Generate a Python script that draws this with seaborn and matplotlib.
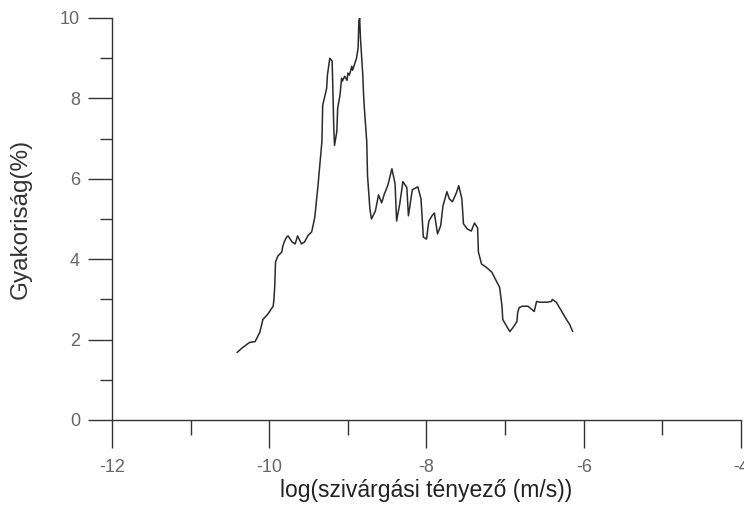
import pandas as pd
import matplotlib
matplotlib.use('Agg')
import matplotlib.pyplot as plt
from matplotlib.ticker import MultipleLocator
import seaborn as sns

# values
log_k = [-10.41, -10.34, -10.25, -10.18, -10.12, -10.08, -10.02, -9.95, -9.94, -9.93,
         -9.92, -9.89, -9.84, -9.83, -9.81, -9.78, -9.76, -9.71, -9.67, -9.64,
         -9.59, -9.55, -9.51, -9.46, -9.42, -9.38, -9.33, -9.32, -9.29, -9.27,
         -9.26, -9.23, -9.20, -9.19, -9.18, -9.17, -9.14, -9.13, -9.10, -9.08,
         -9.07, -9.04, -9.01, -9.00, -8.98, -8.95, -8.94, -8.91, -8.89, -8.87,
         -8.86, -8.85, -8.84, -8.81, -8.80, -8.79, -8.76, -8.75, -8.72, -8.70,
         -8.65, -8.61, -8.57, -8.54, -8.49, -8.44, -8.40, -8.38, -8.34, -8.30,
         -8.25, -8.23, -8.18, -8.11, -8.07, -8.04, -8.00, -7.97, -7.93, -7.90,
         -7.86, -7.82, -7.79, -7.74, -7.71, -7.67, -7.62, -7.59, -7.55, -7.53,
         -7.48, -7.43, -7.39, -7.35, -7.34, -7.30, -7.24, -7.17, -7.11, -7.07,
         -7.04, -7.03, -6.98, -6.94, -6.90, -6.85, -6.84, -6.82, -6.78, -6.71,
         -6.66, -6.63, -6.60, -6.56, -6.47, -6.41, -6.40, -6.35, -6.28, -6.22,
         -6.18, -6.14]
freq = [1.68, 1.80, 1.93, 1.95, 2.18, 2.50, 2.63, 2.83, 3.00, 3.33,
        3.93, 4.08, 4.18, 4.30, 4.43, 4.55, 4.58, 4.43, 4.38, 4.58,
        4.38, 4.43, 4.58, 4.68, 5.05, 5.83, 6.93, 7.83, 8.08, 8.25,
        8.58, 9.00, 8.93, 8.18, 7.33, 6.83, 7.18, 7.75, 8.08, 8.50,
        8.43, 8.55, 8.45, 8.63, 8.58, 8.80, 8.70, 8.88, 9.00, 9.25,
        9.93, 10.00, 9.50, 8.58, 8.08, 7.75, 6.93, 6.08, 5.25, 5.00,
        5.20, 5.60, 5.40, 5.60, 5.85, 6.25, 5.88, 4.95, 5.38, 5.93,
        5.78, 5.08, 5.73, 5.80, 5.50, 4.55, 4.50, 4.95, 5.08, 5.15,
        4.63, 4.83, 5.33, 5.68, 5.50, 5.43, 5.65, 5.83, 5.50, 4.88,
        4.75, 4.70, 4.90, 4.78, 4.18, 3.88, 3.80, 3.68, 3.45, 3.30,
        2.83, 2.50, 2.33, 2.20, 2.30, 2.45, 2.68, 2.80, 2.83, 2.83,
        2.75, 2.70, 2.95, 2.93, 2.93, 2.95, 3.00, 2.93, 2.70, 2.50,
        2.38, 2.20]

df = pd.DataFrame({'logk': log_k, 'freq': freq})

sns.set_style('ticks')
plt.rcParams['font.family'] = ['Liberation Sans', 'DejaVu Sans']
plt.rcParams['axes.unicode_minus'] = False

fig = plt.figure(figsize=(7.44, 5.07), dpi=100)
ax = fig.add_axes([0.1505, 0.1716, 0.8455, 0.7929])

sns.lineplot(data=df, x='logk', y='freq', sort=False, estimator=None,
             color='#2a2a2a', linewidth=1.1, ax=ax)

ax.set_xlim(-12, -4)
ax.set_ylim(0, 10)
ax.xaxis.set_major_locator(MultipleLocator(2))
ax.xaxis.set_minor_locator(MultipleLocator(1))
ax.yaxis.set_major_locator(MultipleLocator(2))
ax.yaxis.set_minor_locator(MultipleLocator(1))
ax.tick_params(axis='x', which='major', length=20, width=1, pad=8,
               labelsize=13, labelcolor='#666666', color='#333333')
ax.tick_params(axis='x', which='minor', length=11, width=1, color='#333333')
ax.tick_params(axis='y', which='major', length=17, width=1, pad=6,
               labelsize=13, labelcolor='#666666', color='#333333')
ax.tick_params(axis='y', which='minor', length=9, width=1, color='#333333')

sns.despine(ax=ax)
for s in ['left', 'bottom']:
    ax.spines[s].set_color('#333333')
    ax.spines[s].set_linewidth(1)

ax.set_xlabel('log(szivárgási tényező (m/s))', fontsize=16.5, color='#222222', labelpad=2)
ax.set_ylabel('Gyakoriság(%)', fontsize=17.5, color='#333333', labelpad=20)

plt.savefig('out.png', dpi=100)
